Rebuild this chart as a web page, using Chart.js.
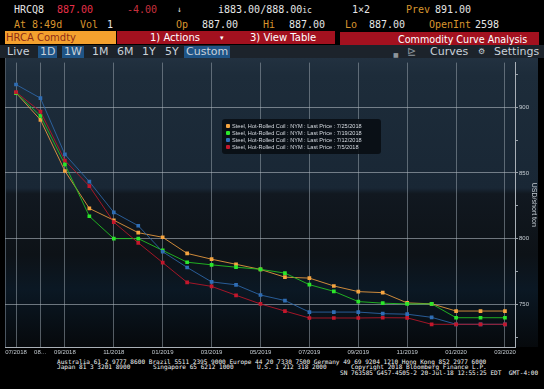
<!DOCTYPE html>
<html>
<head>
<meta charset="utf-8">
<script src="https://cdn.jsdelivr.net/npm/chart.js@4"></script>
<style>
  body { margin: 0; background: #000; width: 544px; height: 389px; overflow: hidden; position: relative; }
  .t { position: absolute; white-space: pre; font-family: 'DejaVu Sans Mono', monospace; font-size: 10px; line-height: 12px; color: #e6e6e6; }
  .o { color: #d9952e; }
  .r { color: #e8304a; }
  .box { position: absolute; }
  .s { position: absolute; white-space: pre; font-family: 'DejaVu Sans', sans-serif; font-size: 10px; line-height: 12px; color: #fff; }
  .tb { position: absolute; white-space: pre; font-family: 'DejaVu Sans', sans-serif; font-size: 11px; line-height: 12px; color: #c9d1d9; top: 46px; }
  .hl { background: #1f5486; padding: 0 2px; }
  .f { position: absolute; white-space: pre; font-family: 'DejaVu Sans Mono', monospace; font-size: 6.1px; line-height: 6px; color: #f2f2f2; }
  #wrap { position: absolute; left: 0; top: 58px; width: 544px; height: 300px; }
  #legend { position: absolute; left: 222px; top: 119px; width: 159px; height: 35px; background: rgba(8,12,18,0.88); border-radius: 3px; }
  .li { position: absolute; left: 4px; white-space: pre; font-family: 'Liberation Sans', sans-serif; font-size: 5.6px; line-height: 7px; color: #d8dde3; }
  .mk { display: inline-block; width: 4px; height: 4px; border-radius: 1px; margin-right: 2px; vertical-align: 0px; }
</style>
</head>
<body>
<!-- header rows -->
<div class="t" style="left:14px;top:4px">HRCQ8</div>
<div class="t r" style="left:57px;top:4px">887.00</div>
<div class="t r" style="left:127px;top:4px;color:#c8303e">-4.00</div>
<div class="t" style="left:177px;top:4px;font-size:8px">↓</div>
<div class="t" style="left:218px;top:4px">i883.00/888.00<span style="font-size:8px">ic</span></div>
<div class="t" style="left:352px;top:4px">1×2</div>
<div class="t o" style="left:406px;top:4px">Prev</div>
<div class="t" style="left:435px;top:4px">891.00</div>

<div class="t o" style="left:14px;top:19px">At 8:49d</div>
<div class="t o" style="left:80px;top:19px">Vol</div>
<div class="t" style="left:107px;top:19px">1</div>
<div class="t o" style="left:176px;top:19px">Op</div>
<div class="t" style="left:202px;top:19px">887.00</div>
<div class="t o" style="left:263px;top:19px">Hi</div>
<div class="t" style="left:289px;top:19px">887.00</div>
<div class="t o" style="left:345px;top:19px">Lo</div>
<div class="t" style="left:369px;top:19px">887.00</div>
<div class="t o" style="left:429px;top:19px">OpenInt</div>
<div class="t" style="left:475px;top:19px">2598</div>

<div class="box" style="left:5px;top:31px;width:111px;height:13px;background:#f4a12e"></div>
<div class="s" style="left:6px;top:32px;color:#8e2c16">HRCA Comdty</div>
<div class="box" style="left:117px;top:31px;width:218px;height:13px;background:#a3111f"></div>
<div class="s" style="left:150px;top:32px">1) Actions</div>
<div class="s" style="left:220px;top:32px;font-size:7px">▾</div>
<div class="s" style="left:250px;top:32px">3) View Table</div>
<div class="box" style="left:340px;top:32px;width:199px;height:13px;background:#a3111f"></div>
<div class="s" style="left:398px;top:34px;font-size:9.6px">Commodity Curve Analysis</div>

<div class="box" style="left:0;top:45px;width:544px;height:13px;background:#1c232b"></div>
<div class="tb" style="left:7px">Live</div>
<div class="tb hl" style="left:38px">1D</div>
<div class="tb hl" style="left:62px">1W</div>
<div class="tb" style="left:92px">1M</div>
<div class="tb" style="left:117px">6M</div>
<div class="tb" style="left:142px">1Y</div>
<div class="tb" style="left:165px">5Y</div>
<div class="tb hl" style="left:184px">Custom</div>
<div class="tb" style="left:393px;font-size:6px;top:49px;color:#8d959c">■</div>
<div class="tb" style="left:407px;color:#8d959c">⊵</div>
<div class="tb" style="left:430px">Curves</div>
<div class="tb" style="left:478px;font-size:8px">⚙</div>
<div class="tb" style="left:494px">Settings</div>

<div id="wrap"><canvas id="myChart" width="544" height="300"></canvas></div>
<div id="legend"></div>

<!-- footer -->
<div class="f" style="left:57px;top:359px">Australia 61 2 9777 8600 Brazil 5511 2395 9000 Europe 44 20 7330 7500 Germany 49 69 9204 1210 Hong Kong 852 2977 6000</div>
<div class="f" style="left:57px;top:364px">Japan 81 3 3201 8900</div>
<div class="f" style="left:153px;top:364px">Singapore 65 6212 1000</div>
<div class="f" style="left:257px;top:364px">U.S. 1 212 318 2000</div>
<div class="f" style="left:351px;top:364px">Copyright 2018 Bloomberg Finance L.P.</div>
<div class="f" style="left:340px;top:369.5px">SN 763585 G457-4505-2 20-Jul-18 12:55:25 EDT  GMT-4:00</div>

<script>
// Curve data, one value per contract month
const contractMonths = ['07/2018', '08/2018', '09/2018', '10/2018', '11/2018', '12/2018', '01/2019', '02/2019', '03/2019', '04/2019', '05/2019',
  '06/2019', '07/2019', '08/2019', '09/2019', '10/2019', '11/2019', '12/2019', '01/2020', '02/2020', '03/2020'];

const xTickIndex = [0, 1, 2, 4, 6, 8, 10, 12, 14, 16, 18, 20];
const xTickText = ['07/2018', '08…', '09/2018', '11/2018', '01/2019', '03/2019', '05/2019', '07/2019', '09/2019', '11/2019', '01/2020', '03/2020'];
const yTicks = [725, 750, 775, 800, 825, 850, 875, 900, 925];
const yLabelTicks = [750, 800, 850, 900];

const seriesNames = [
  'Steel, Hot-Rolled Coil : NYM : Last Price : 7/25/2018',
  'Steel, Hot-Rolled Coil : NYM : Last Price : 7/19/2018',
  'Steel, Hot-Rolled Coil : NYM : Last Price : 7/12/2018',
  'Steel, Hot-Rolled Coil : NYM : Last Price : 7/5/2018'
];

const price0725 = [911, 890.5, 851.5, 823, 814, 804.5, 801, 788.7, 784.3, 780.4, 776.5, 770.6, 769.9, 763.9, 759.6, 758.8, 751, 750.3, 744.8, 744.8, 744.8];
const price0719 = [911, 893.5, 856.5, 817, 800, 800, 791, 782, 780, 778.2, 776.6, 773.7, 764.9, 759.8, 752, 750.8, 750.2, 750.3, 739.7, 739.7, 739.7];
const price0712 = [917.4, 907, 864.2, 843.4, 820, 809.8, 790, 778, 767, 764.8, 757, 752.8, 744, 744, 744, 742.8, 742.4, 740, 734.7, 734.7, 734.7];
const price0705 = [911.6, 896.8, 859.5, 840, 812.5, 796.8, 781.7, 766.6, 763.6, 756.8, 750.2, 744.8, 739.5, 739.5, 739.5, 739.7, 739.6, 734.7, 734.7, 734.7, 734.7];

const pointColors = ['#f5a440', '#2be62b', '#2f6db4', '#c3172c'];
const lineColors = ['rgba(238,158,64,0.85)', 'rgba(34,190,34,0.9)', 'rgba(46,104,172,0.85)', 'rgba(180,22,40,0.9)'];

function toXY(arr) {
  return arr.map((v, i) => ({ x: i, y: v }));
}

const allSeries = [price0725, price0719, price0712, price0705];

// html legend
const legend = document.getElementById('legend');
seriesNames.forEach((name, i) => {
  const d = document.createElement('div');
  d.className = 'li';
  d.style.top = (3.5 + i * 7.3) + 'px';
  d.innerHTML = '<span class="mk" style="background:' + pointColors[i] + '"></span>' + name;
  legend.appendChild(d);
});

const bgPlugin = {
  id: 'bg',
  beforeDraw(chart) {
    const c = chart.ctx;
    const a = chart.chartArea;
    const g = c.createLinearGradient(0, 0, 0, a.bottom);
    g.addColorStop(0, '#223140');
    g.addColorStop(0.06, '#1d2c3a');
    g.addColorStop(0.45, '#192735');
    g.addColorStop(0.47, '#111820');
    g.addColorStop(0.68, '#0d1217');
    g.addColorStop(0.8, '#0b1824');
    g.addColorStop(1, '#06090c');
    c.save();
    c.fillStyle = g;
    c.fillRect(5, 0, 533, a.bottom);
    c.strokeStyle = '#4a5560';
    c.lineWidth = 1;
    c.beginPath();
    c.moveTo(5.5, 0);
    c.lineTo(5.5, a.bottom);
    c.stroke();
    c.restore();
  }
};

const ctx = document.getElementById('myChart').getContext('2d');

const myChart = new Chart(ctx, {
  type: 'line',
  data: {
    datasets: allSeries.map((arr, i) => ({
      label: seriesNames[i],
      data: toXY(arr),
      borderColor: lineColors[i],
      backgroundColor: pointColors[i],
      pointBackgroundColor: pointColors[i],
      pointBorderColor: pointColors[i],
      pointStyle: 'rect',
      pointRadius: 2.6,
      pointBorderWidth: 0,
      borderWidth: 1,
      tension: 0,
      order: 3 - i
    }))
  },
  options: {
    responsive: false,
    animation: false,
    layout: { padding: { left: 5, top: 1, right: 0, bottom: 0 } },
    plugins: { legend: { display: false }, tooltip: { enabled: false } },
    scales: {
      x: {
        type: 'linear',
        min: -0.45,
        max: 20.41,
        afterBuildTicks: (s) => { s.ticks = xTickIndex.map(v => ({ value: v })); },
        afterFit: (s) => { s.height = 11; },
        border: { display: true, color: '#a9b0b7', width: 1 },
        grid: { color: 'rgba(150,160,170,0.55)', drawTicks: false, lineWidth: 1 },
        ticks: {
          color: '#c5ccd2',
          padding: 2,
          maxRotation: 0,
          autoSkip: false,
          font: { family: 'Liberation Sans', size: 6 },
          callback: (v) => xTickText[xTickIndex.indexOf(v)]
        }
      },
      y: {
        position: 'right',
        min: 717.4,
        max: 934.1,
        afterBuildTicks: (s) => { s.ticks = yTicks.map(v => ({ value: v })); },
        afterFit: (s) => { s.width = 29; },
        border: { display: true, color: '#a9b0b7', width: 1 },
        grid: {
          color: (c) => yLabelTicks.includes(c.tick && c.tick.value) ? 'rgba(175,183,191,0.6)' : 'rgba(0,0,0,0)',
          tickColor: '#9aa2aa',
          tickLength: 3,
          lineWidth: 1
        },
        ticks: {
          color: '#c5ccd2',
          padding: 1,
          font: { family: 'Liberation Sans', size: 6 },
          callback: (v) => yLabelTicks.includes(v) ? String(v) : ''
        },
        title: {
          display: true,
          text: 'USD/short ton',
          color: '#c5ccd2',
          font: { family: 'Liberation Sans', size: 7 },
          padding: { top: 6, bottom: 0 }
        }
      }
    }
  },
  plugins: [bgPlugin]
});
</script>
</body>
</html>
